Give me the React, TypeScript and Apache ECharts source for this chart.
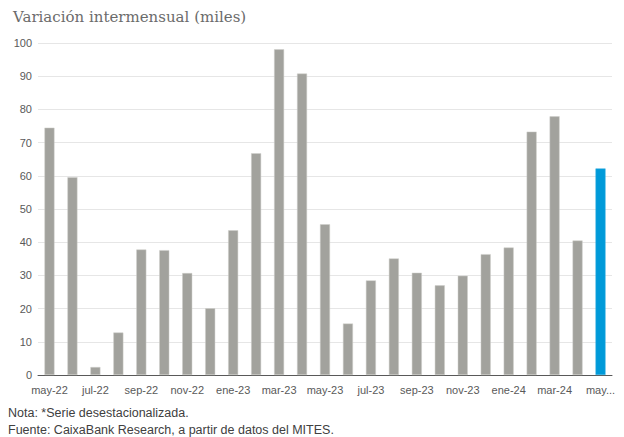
import React, { useEffect, useRef } from "react";
import * as echarts from "echarts";

const categories = [
  "may-22", "jun-22", "jul-22", "ago-22", "sep-22", "oct-22", "nov-22", "dic-22",
  "ene-23", "feb-23", "mar-23", "abr-23", "may-23", "jun-23", "jul-23", "ago-23",
  "sep-23", "oct-23", "nov-23", "dic-23", "ene-24", "feb-24", "mar-24", "abr-24", "may-24*",
];

const values = [
  74.5, 59.6, 2.4, 12.8, 37.8, 37.6, 30.7, 20.1,
  43.6, 66.8, 98.1, 90.8, 45.4, 15.5, 28.5, 35.1,
  30.8, 27.0, 29.9, 36.4, 38.4, 73.3, 77.9, 40.5, 62.2,
];

const yTicks = [0, 10, 20, 30, 40, 50, 60, 70, 80, 90, 100];

const title = "Variación intermensual (miles)";
const note = "Nota: *Serie desestacionalizada.";
const source = "Fuente: CaixaBank Research, a partir de datos del MITES.";

export default function App() {
  const ref = useRef<HTMLDivElement>(null);
  useEffect(() => {
    if (!ref.current) return;
    const chart = echarts.init(ref.current, undefined, { renderer: "svg" });
    const last = values.length - 1;
    chart.setOption({
      animation: false,
      backgroundColor: "#ffffff",
      title: {
        text: title,
        left: 8,
        top: 4,
        textStyle: {
          fontFamily: "DejaVu Serif",
          fontWeight: "normal",
          fontSize: 15,
          color: "#6b6b6b",
        },
      },
      grid: { left: 38, right: 12, top: 43, bottom: 62, containLabel: false },
      xAxis: {
        type: "category",
        data: categories,
        axisLine: { lineStyle: { color: "#595959", width: 1 } },
        axisTick: { show: false },
        axisLabel: {
          interval: 1,
          margin: 9,
          fontFamily: "Liberation Sans",
          fontSize: 11,
          color: "#595959",
          formatter: (v: string) => (v === categories[last] ? "may..." : v),
        },
      },
      yAxis: {
        type: "value",
        min: yTicks[0],
        max: yTicks[yTicks.length - 1],
        interval: 10,
        axisLine: { show: false },
        axisTick: { show: false },
        axisLabel: {
          margin: 6,
          fontFamily: "Liberation Sans",
          fontSize: 11,
          color: "#595959",
        },
        splitLine: { lineStyle: { color: "#e6e6e6", width: 1 } },
      },
      series: [
        {
          type: "bar",
          data: values.map((v, i) => ({
            value: v,
            itemStyle:
              i === last
                ? { color: "#009ad9", borderColor: "#33aee0", borderWidth: 0.5 }
                : { color: "#a2a29d", borderColor: "#cfcfcb", borderWidth: 0.5 },
          })),
          barWidth: 10,
        },
      ],
      graphic: [
        {
          type: "text",
          left: 8,
          top: 406,
          style: {
            text: note,
            font: "12.5px 'Liberation Sans'",
            fill: "#404040",
          },
        },
        {
          type: "text",
          left: 8,
          top: 423,
          style: {
            text: source,
            font: "12.5px 'Liberation Sans'",
            fill: "#404040",
          },
        },
      ],
    });
    return () => chart.dispose();
  }, []);
  return (
    <div
      ref={ref}
      style={{ position: "fixed", left: 0, top: 0, width: 624, height: 437 }}
    />
  );
}
